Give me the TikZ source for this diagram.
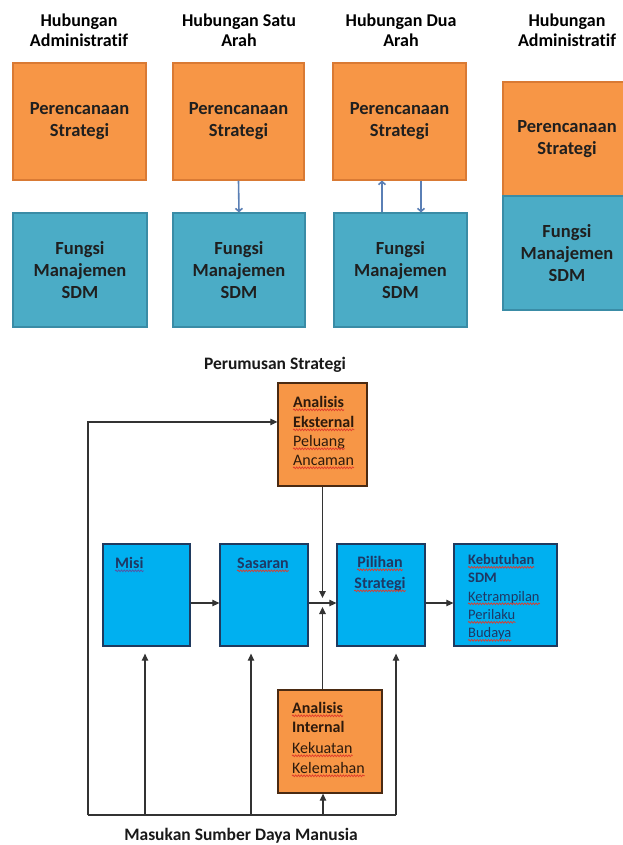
\documentclass[tikz,border=0pt]{standalone}
\usepackage{fontspec}
\setmainfont{Carlito}[Ligatures=NoCommon]
\usetikzlibrary{arrows.meta,calc,decorations.pathmorphing}
\definecolor{orgfill}{HTML}{F79646}
\definecolor{orgline}{HTML}{D97A34}
\definecolor{aqfill}{HTML}{4BACC6}
\definecolor{aqline}{HTML}{3A8CA6}
\definecolor{skyfill}{HTML}{00B0F0}
\definecolor{skyline}{HTML}{1F3A5F}
\definecolor{brline}{HTML}{4A2A12}
\definecolor{navytxt}{HTML}{1F3864}
\definecolor{browntxt}{HTML}{2E1A0C}
\definecolor{arrblue}{HTML}{5A7FB5}
\definecolor{wavered}{HTML}{E03A2A}
\definecolor{wavenavy}{HTML}{5A4FA0}
\begin{document}
\begin{tikzpicture}[x=1pt,y=-1pt,
  ttl/.style={font=\bfseries\fontsize{18}{20}\selectfont, align=center, text=black, inner sep=0pt},
  topbox/.style={draw, line width=1.2pt, inner sep=0pt, align=center, font=\bfseries\fontsize{18.5}{22}\selectfont, text=black!88},
  obox/.style={topbox, fill=orgfill, draw=orgline},
  abox/.style={topbox, fill=aqfill, draw=aqline},
  tarr/.style={draw=arrblue, line width=1.6pt, -{Straight Barb[length=3pt,width=7pt]}},
  sbox/.style={draw=skyline, fill=skyfill, line width=1.3pt, inner sep=0pt},
  pbox/.style={draw=brline, fill=orgfill, line width=1.3pt, inner sep=0pt},
  wv/.style={draw=wavered, line width=.7pt, decorate, decoration={snake, amplitude=.9pt, segment length=2.8pt}},
  wvn/.style={wv, draw=wavenavy},
  wave/.style={append after command={([yshift=-2.8pt]\tikzlastnode.base west) edge[wv] ([yshift=-2.8pt]\tikzlastnode.base east)}},
  waven/.style={append after command={([yshift=-2.8pt]\tikzlastnode.base west) edge[wvn] ([yshift=-2.8pt]\tikzlastnode.base east)}},
  otxt/.style={inner sep=0pt, anchor=base west, text=browntxt, font=\fontsize{16}{19}\selectfont},
  otxtb/.style={otxt, font=\bfseries\fontsize{16}{19}\selectfont},
  stxtb/.style={inner sep=0pt, anchor=base west, text=navytxt, font=\bfseries\fontsize{16}{19}\selectfont},
  ktxt/.style={inner sep=0pt, anchor=base west, text=navytxt, font=\fontsize{14.5}{18}\selectfont},
  ktxtb/.style={ktxt, font=\bfseries\fontsize{14.5}{18}\selectfont},
  captxt/.style={font=\bfseries\fontsize{17.5}{20}\selectfont, text=black!90, inner sep=0pt},
  barr/.style={draw=black!80, line width=1.2pt, -{Triangle[length=7pt,width=6.5pt]}},
  bline/.style={draw=black!80, line width=1.2pt}
]
\fill[white] (0,0) rectangle (622,845);
\useasboundingbox (0,0) rectangle (622,845);

% ---------- top part ----------
\node[ttl] (t1) at (79,30) {Hubungan\\Administratif};
\node[ttl] (t2) at (239,30) {Hubungan Satu\\Arah};
\node[ttl] (t3) at (401,30) {Hubungan Dua\\Arah};
\node[ttl] (t4) at (567,30) {Hubungan\\Administratif};

\node[obox, minimum width=133pt, minimum height=117pt] (o1) at (79.5,121.5) {Perencanaan\\Strategi};
\node[obox, minimum width=131pt, minimum height=117pt] (o2) at (238.5,121.5) {Perencanaan\\Strategi};
\node[obox, minimum width=133pt, minimum height=117pt] (o3) at (399.5,121.5) {Perencanaan\\Strategi};
\node[abox, minimum width=134pt, minimum height=114pt] (b1) at (80,270) {Fungsi\\Manajemen\\SDM};
\node[abox, minimum width=132pt, minimum height=114pt] (b2) at (239,270) {Fungsi\\Manajemen\\SDM};
\node[abox, minimum width=133pt, minimum height=114pt] (b3) at (400.5,270) {Fungsi\\Manajemen\\SDM};

\node[obox, minimum width=128pt, minimum height=114pt] (o4) at (567,139) {Perencanaan\\Strategi};
\node[abox, minimum width=128pt, minimum height=114pt] (b4) at (567,253) {Fungsi\\Manajemen\\SDM};

\draw[tarr] (o2.south) -- (b2.north);
\draw[tarr] ([xshift=-18.5pt]b3.north) -- ([xshift=-17.5pt]o3.south);
\draw[tarr] ([xshift=21.5pt]o3.south) -- ([xshift=20.5pt]b3.north);

% ---------- bottom part ----------
\node[captxt] (ptitle) at (275,365) {Perumusan Strategi};

\node[pbox, minimum width=89pt, minimum height=103pt] (ext) at (322.5,434.5) {};
\node[otxtb, wave] (e1) at (293,407) {Analisis};
\node[otxtb, wave] (e2) at (293,427) {Eksternal};
\node[otxt, wave] (e3) at (293,446) {Peluang};
\node[otxt, wave] (e4) at (293,465) {Ancaman};

\node[sbox, minimum width=87pt, minimum height=102pt] (misi) at (146.5,595) {};
\node[stxtb, waven] (m1) at (115,568) {Misi};
\node[sbox, minimum width=88pt, minimum height=102pt] (sas) at (264,595) {};
\node[stxtb, wave] (s1) at (237,568) {Sasaran};
\node[sbox, minimum width=88pt, minimum height=102pt] (pil) at (381,595) {};
\node[stxtb, wave, anchor=base] (p1) at (380,567) {Pilihan};
\node[stxtb, wave, anchor=base] (p2) at (380,588) {Strategi};
\node[sbox, minimum width=103pt, minimum height=102pt] (keb) at (505.5,595) {};
\node[ktxtb, wave] (k1) at (468,564.5) {Kebutuhan};
\node[ktxtb] (k2) at (468,582.5) {SDM};
\node[ktxt, wave] (k3) at (468,601) {Ketrampilan};
\node[ktxt, wave] (k4) at (468,619.5) {Perilaku};
\node[ktxt, wave] (k5) at (468,637.5) {Budaya};

\node[pbox, minimum width=104pt, minimum height=103pt] (int) at (330,741.5) {};
\node[otxtb, wave] (i1) at (292,713) {Analisis};
\node[otxtb] (i2) at (292,732) {Internal};
\node[otxt, wave] (i3) at (292,753) {Kekuatan};
\node[otxt, wave] (i4) at (292,773) {Kelemahan};

\node[captxt] (mtitle) at (241,836) {Masukan Sumber Daya Manusia};

\coordinate (bl) at (88,815);
\coordinate (br) at (396,815);
\coordinate (u1) at (145,815);
\coordinate (u2) at (251,815);
\coordinate (u3) at (323,815);
\coordinate (cross) at (322.5,603);

\draw[bline] (bl) -- (br);
\draw[barr] (bl) |- ($(ext.north west)!0.38!(ext.south west)$);
\draw[barr, shorten >=7pt] (u1) -- (u1 |- misi.south);
\draw[barr, shorten >=7pt] (u2) -- (u2 |- sas.south);
\draw[barr] (u3) -- (u3 |- int.south);
\draw[barr, shorten >=7pt] (br) -- (br |- pil.south);

\draw[barr] (cross |- ext.south) -- ([yshift=5pt]cross);
\draw[barr] (cross |- int.north) -- ([yshift=-4pt]cross);
\draw[barr] (misi.east |- cross) -- (sas.west |- cross);
\draw[barr] (sas.east |- cross) -- (pil.west |- cross);
\draw[barr] (pil.east |- cross) -- (keb.west |- cross);
\end{tikzpicture}
\end{document}
